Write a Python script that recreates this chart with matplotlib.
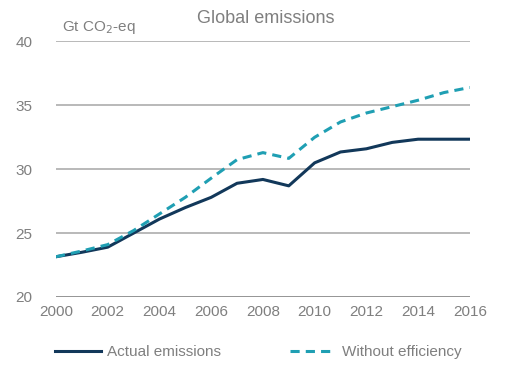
import matplotlib
matplotlib.use("Agg")
import matplotlib.pyplot as plt

plt.rcParams['font.family'] = ['Liberation Sans', 'DejaVu Sans']

# data
years = list(range(2000, 2017))
actual = [23.15, 23.5, 23.9, 25.0, 26.1, 27.0, 27.8, 28.9, 29.2, 28.7,
          30.5, 31.35, 31.6, 32.1, 32.35, 32.35, 32.35]
without_eff = [23.15, 23.6, 24.1, 25.2, 26.5, 27.8, 29.3, 30.75, 31.3, 30.85,
               32.5, 33.7, 34.4, 34.9, 35.4, 36.0, 36.4]
yticks = [20, 25, 30, 35, 40]
xticks = list(range(2000, 2017, 2))

grey = '#7f7f7f'
navy = '#12385a'
teal = '#1f9fb3'

fig = plt.figure(figsize=(5.16, 3.78), dpi=100)
ax = fig.add_axes([0.1085, 0.2143, 0.802, 0.676])

for y in yticks:
    ax.axhline(y, color='#b3b3b3' if y > 20 else '#8c8c8c', lw=1.3, zorder=0)

ax.plot(years, actual, color=navy, lw=2.2, label='Actual emissions')
ax.plot(years, without_eff, color=teal, lw=2.2, ls=(0, (3, 2)),
        label='Without efficiency')

ax.set_xlim(2000, 2016)
ax.set_ylim(20, 40)
ax.set_xticks(xticks)
ax.set_yticks(yticks)
ax.tick_params(length=0, labelsize=11, colors=grey, pad=6)
ax.tick_params(axis='y', pad=17)
for s in ax.spines.values():
    s.set_visible(False)
ax.patch.set_alpha(0)

ax.text(0.015, 1.02, r'Gt CO$_2$-eq', transform=ax.transAxes, fontsize=11,
        color=grey, ha='left', va='bottom')
fig.text(0.515, 0.952, 'Global emissions', fontsize=13, color=grey,
         ha='center', va='center')

fig.legend(loc='center', bbox_to_anchor=(0.5, 0.068), ncol=2, frameon=False,
           fontsize=11, labelcolor=grey, handlelength=3.0, handletextpad=0.4,
           columnspacing=4.5)

fig.savefig('out.png', dpi=100)
